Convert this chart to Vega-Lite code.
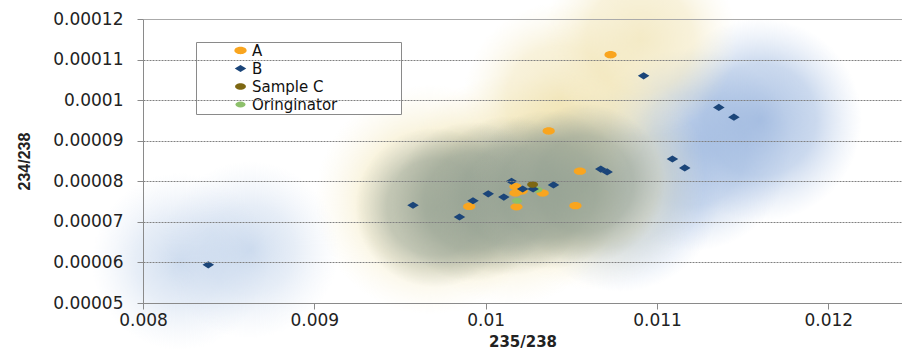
{
  "$schema": "https://vega.github.io/schema/vega-lite/v6.json",
  "width": 759,
  "height": 284,
  "autosize": {"type": "none"},
  "padding": {"left": 143, "top": 19, "right": 0, "bottom": 46},
  "background": "white",
  "config": {
    "view": {"stroke": null},
    "axis": {
      "labelFont": "DejaVu Sans",
      "labelFontSize": 17,
      "labelColor": "#222",
      "domainColor": "#8a8a8a",
      "tickColor": "#8a8a8a",
      "tickSize": 6,
      "titleColor": "#222",
      "labelFlush": false,
      "labelOverlap": false
    },
    "legend": {
      "labelFont": "DejaVu Sans",
      "labelFontSize": 15,
      "labelColor": "#111"
    }
  },
  "datasets": {
    "pts": [
      {"series": "A", "x": 0.010729, "y": 0.0001112},
      {"series": "A", "x": 0.010368, "y": 0.0000924},
      {"series": "A", "x": 0.01055, "y": 0.0000825},
      {"series": "A", "x": 0.010524, "y": 0.000074},
      {"series": "A", "x": 0.010333, "y": 0.0000771},
      {"series": "A", "x": 0.01018, "y": 0.0000737},
      {"series": "A", "x": 0.010174, "y": 0.0000787},
      {"series": "A", "x": 0.010174, "y": 0.0000771},
      {"series": "A", "x": 0.01021, "y": 0.0000776},
      {"series": "A", "x": 0.009904, "y": 0.0000738},
      {"series": "Oringinator", "x": 0.010183, "y": 0.0000752},
      {"series": "Oringinator", "x": 0.010302, "y": 0.0000779},
      {"series": "B", "x": 0.008381, "y": 0.0000594},
      {"series": "B", "x": 0.009576, "y": 0.0000741},
      {"series": "B", "x": 0.009847, "y": 0.0000712},
      {"series": "B", "x": 0.009926, "y": 0.0000752},
      {"series": "B", "x": 0.010015, "y": 0.0000769},
      {"series": "B", "x": 0.010106, "y": 0.0000761},
      {"series": "B", "x": 0.010151, "y": 0.00008},
      {"series": "B", "x": 0.010216, "y": 0.0000781},
      {"series": "B", "x": 0.010277, "y": 0.0000781},
      {"series": "B", "x": 0.010396, "y": 0.0000791},
      {"series": "B", "x": 0.010672, "y": 0.000083},
      {"series": "B", "x": 0.010709, "y": 0.0000823},
      {"series": "B", "x": 0.010922, "y": 0.000106},
      {"series": "B", "x": 0.011361, "y": 0.0000982},
      {"series": "B", "x": 0.011449, "y": 0.0000958},
      {"series": "B", "x": 0.01109, "y": 0.0000855},
      {"series": "B", "x": 0.011162, "y": 0.0000833},
      {"series": "Sample C", "x": 0.010274, "y": 0.0000792}
    ],
    "blueLeft": [
      {"x": 0.008216, "y": 0.0000602},
      {"x": 0.008625, "y": 0.0000631}
    ],
    "blueRight": [
      {"x": 0.010785, "y": 0.0000779},
      {"x": 0.011193, "y": 0.0000878},
      {"x": 0.011602, "y": 0.0000952}
    ],
    "yellowLow": [
      {"x": 0.009675, "y": 0.0000755},
      {"x": 0.010142, "y": 0.0000779},
      {"x": 0.010609, "y": 0.0000816}
    ],
    "yellowHigh": [
      {"x": 0.010434, "y": 0.0001001},
      {"x": 0.010901, "y": 0.0001149}
    ],
    "core": [
      {"x": 0.009705, "y": 0.0000735},
      {"x": 0.009921, "y": 0.000075},
      {"x": 0.010142, "y": 0.0000764},
      {"x": 0.010364, "y": 0.0000779},
      {"x": 0.01058, "y": 0.0000794}
    ]
  },
  "encoding": {
    "x": {
      "field": "x",
      "type": "quantitative",
      "scale": {"domain": [0.008, 0.01243], "nice": false, "zero": false},
      "axis": {
        "values": [0.008, 0.009, 0.01, 0.011, 0.012],
        "format": ".3~f",
        "grid": false,
        "labelPadding": 3,
        "title": "235/238",
        "titleFont": "DejaVu Sans",
        "titleFontSize": 15,
        "titleFontWeight": "bold",
        "titlePadding": 6,
        "zindex": 1
      }
    },
    "y": {
      "field": "y",
      "type": "quantitative",
      "scale": {"domain": [0.00005, 0.00012], "nice": false, "zero": false},
      "axis": {
        "values": [0.00005, 0.00006, 0.00007, 0.00008, 0.00009, 0.0001, 0.00011, 0.00012],
        "format": ".5~f",
        "grid": true,
        "gridColor": {"condition": {"test": "datum.value > 0.000119", "value": "#aaaaaa"}, "value": "#808080"},
        "gridDash": {"condition": {"test": "datum.value > 0.000119", "value": []}, "value": [2, 1]},
        "gridWidth": 1,
        "labelPadding": 14,
        "title": "234/238",
        "titleFont": "Liberation Sans",
        "titleFontSize": 16,
        "titleFontWeight": "bold",
        "titlePadding": 20,
        "zindex": 1
      }
    }
  },
  "layer": [
    {
      "data": {"name": "blueLeft"},
      "mark": {
        "type": "point", "shape": "circle", "filled": true, "size": 31416, "strokeWidth": 0, "opacity": 1,
        "fill": {"gradient": "radial", "stops": [
          {"offset": 0, "color": "rgba(175,198,228,0.6)"},
          {"offset": 0.5, "color": "rgba(185,205,232,0.35)"},
          {"offset": 1, "color": "rgba(210,222,240,0)"}
        ]}
      }
    },
    {
      "data": {"name": "blueRight"},
      "mark": {
        "type": "point", "shape": "circle", "filled": true, "size": 41548, "strokeWidth": 0, "opacity": 1,
        "fill": {"gradient": "radial", "stops": [
          {"offset": 0, "color": "rgba(150,178,220,0.8)"},
          {"offset": 0.55, "color": "rgba(160,186,224,0.55)"},
          {"offset": 1, "color": "rgba(190,208,235,0)"}
        ]}
      }
    },
    {
      "data": {"name": "yellowLow"},
      "mark": {
        "type": "point", "shape": "circle", "filled": true, "size": 53093, "strokeWidth": 0, "opacity": 1,
        "fill": {"gradient": "radial", "stops": [
          {"offset": 0, "color": "rgba(238,224,170,0.5)"},
          {"offset": 0.6, "color": "rgba(242,230,182,0.45)"},
          {"offset": 1, "color": "rgba(248,240,210,0)"}
        ]}
      }
    },
    {
      "data": {"name": "yellowHigh"},
      "mark": {
        "type": "point", "shape": "circle", "filled": true, "size": 38013, "strokeWidth": 0, "opacity": 1,
        "fill": {"gradient": "radial", "stops": [
          {"offset": 0, "color": "rgba(236,220,160,0.6)"},
          {"offset": 0.55, "color": "rgba(240,226,175,0.45)"},
          {"offset": 1, "color": "rgba(248,240,210,0)"}
        ]}
      }
    },
    {
      "data": {"name": "core"},
      "mark": {
        "type": "point", "shape": "circle", "filled": true, "size": 25500, "strokeWidth": 0, "opacity": 1,
        "fill": {"gradient": "radial", "stops": [
          {"offset": 0, "color": "rgba(146,160,146,0.7)"},
          {"offset": 0.6, "color": "rgba(150,162,148,0.55)"},
          {"offset": 1, "color": "rgba(165,172,158,0)"}
        ]}
      }
    },
    {
      "data": {"name": "pts"},
      "mark": {"type": "point", "filled": true, "opacity": 1, "strokeWidth": 0},
      "encoding": {
        "color": {
          "field": "series",
          "type": "nominal",
          "scale": {"domain": ["A", "B", "Sample C", "Oringinator"], "range": ["#F9A51F", "#1B4579", "#7D6712", "#8DC06B"]},
          "legend": {
            "title": null,
            "orient": "none",
            "legendX": 53,
            "legendY": 23,
            "fillColor": "white",
            "strokeColor": "#8a8a8a",
            "padding": 1,
            "symbolOffset": 36,
            "symbolSize": 50,
            "symbolStrokeWidth": 0,
            "labelOffset": 4,
            "rowPadding": 2,
            "labelExpr": "datum.label + '\u00a0\u00a0\u00a0\u00a0\u00a0\u00a0\u00a0\u00a0\u00a0\u00a0\u00a0\u00a0\u00a0\u200b'"
          }
        },
        "shape": {
          "field": "series",
          "type": "nominal",
          "scale": {"domain": ["A", "B", "Sample C", "Oringinator"], "range": [
            "M -1 0 C -1 -0.33 -0.55 -0.6 0 -0.6 C 0.55 -0.6 1 -0.33 1 0 C 1 0.33 0.55 0.6 0 0.6 C -0.55 0.6 -1 0.33 -1 0 Z",
            "M -1 0 L 0 -0.62 L 1 0 L 0 0.62 Z",
            "M -1 0 C -1 -0.33 -0.55 -0.6 0 -0.6 C 0.55 -0.6 1 -0.33 1 0 C 1 0.33 0.55 0.6 0 0.6 C -0.55 0.6 -1 0.33 -1 0 Z",
            "M -1 0 C -1 -0.33 -0.55 -0.6 0 -0.6 C 0.55 -0.6 1 -0.33 1 0 C 1 0.33 0.55 0.6 0 0.6 C -0.55 0.6 -1 0.33 -1 0 Z"
          ]},
          "legend": {
            "title": null,
            "orient": "none",
            "legendX": 53,
            "legendY": 23,
            "fillColor": "white",
            "strokeColor": "#8a8a8a",
            "padding": 1,
            "symbolOffset": 36,
            "symbolSize": 50,
            "symbolStrokeWidth": 0,
            "labelOffset": 4,
            "rowPadding": 2,
            "labelExpr": "datum.label + '\u00a0\u00a0\u00a0\u00a0\u00a0\u00a0\u00a0\u00a0\u00a0\u00a0\u00a0\u00a0\u00a0\u200b'"
          }
        },
        "size": {
          "field": "series",
          "type": "nominal",
          "scale": {"domain": ["A", "B", "Sample C", "Oringinator"], "range": [150, 100, 170, 140]},
          "legend": null
        }
      }
    }
  ]
}
